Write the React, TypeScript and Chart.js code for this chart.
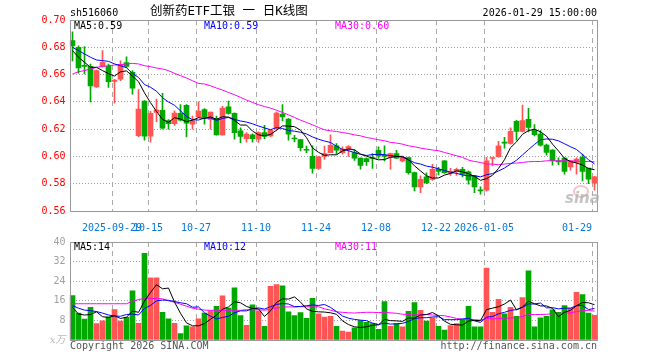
import React, { useEffect, useRef } from 'react';
import { Chart, registerables } from 'chart.js';

Chart.register(...registerables);

// ---------------- data ----------------
const DATES = [
  '2025-09-18','2025-09-19','2025-09-22','2025-09-23','2025-09-24','2025-09-25','2025-09-26','2025-09-29','2025-09-30',
  '2025-10-09','2025-10-10','2025-10-13','2025-10-14','2025-10-15','2025-10-16','2025-10-17','2025-10-20','2025-10-21',
  '2025-10-22','2025-10-23','2025-10-24','2025-10-27','2025-10-28','2025-10-29','2025-10-30','2025-10-31',
  '2025-11-03','2025-11-04','2025-11-05','2025-11-06','2025-11-07','2025-11-10','2025-11-11','2025-11-12','2025-11-13',
  '2025-11-14','2025-11-17','2025-11-18','2025-11-19','2025-11-20','2025-11-21','2025-11-24','2025-11-25','2025-11-26',
  '2025-11-27','2025-11-28',
  '2025-12-01','2025-12-02','2025-12-03','2025-12-04','2025-12-05','2025-12-08','2025-12-09','2025-12-10','2025-12-11',
  '2025-12-12','2025-12-15','2025-12-16','2025-12-17','2025-12-18','2025-12-19','2025-12-22','2025-12-23','2025-12-24',
  '2025-12-25','2025-12-26','2025-12-29','2025-12-30','2025-12-31',
  '2026-01-05','2026-01-06','2026-01-07','2026-01-08','2026-01-09','2026-01-12','2026-01-13','2026-01-14','2026-01-15',
  '2026-01-16','2026-01-19','2026-01-20','2026-01-21','2026-01-22','2026-01-23','2026-01-26','2026-01-27','2026-01-28',
  '2026-01-29',
];

const OPEN = [
  0.685, 0.680, 0.6665, 0.666, 0.651, 0.666, 0.666, 0.655, 0.6567, 0.6687,
  0.6616, 0.6153, 0.6405, 0.6148, 0.6322, 0.6337, 0.6263, 0.6241, 0.6315, 0.6374,
  0.6237, 0.629, 0.6344, 0.6271, 0.628, 0.6158, 0.6364, 0.6315, 0.6187, 0.6131,
  0.6158, 0.6126, 0.6175, 0.6151, 0.6205, 0.631, 0.6273, 0.6135, 0.6124, 0.6052,
  0.600, 0.5913, 0.600, 0.6028, 0.6077, 0.6028, 0.6053, 0.6028, 0.5987, 0.5985,
  0.5987, 0.6045, 0.6005, 0.5992, 0.6021, 0.5967, 0.5992, 0.5881, 0.5776, 0.585,
  0.5832, 0.5906, 0.5967, 0.5875, 0.5888, 0.5906, 0.5887, 0.5858, 0.5752, 0.5753,
  0.5985, 0.5998, 0.6102, 0.6096, 0.6257, 0.6184, 0.6272, 0.6194, 0.6164, 0.6083,
  0.6047, 0.5965, 0.5988, 0.5924, 0.5956, 0.5993, 0.5914, 0.5804,
];
const HIGH = [
  0.6914, 0.681, 0.6805, 0.6677, 0.6635, 0.6776, 0.6677, 0.6565, 0.670, 0.673,
  0.6629, 0.649, 0.641, 0.633, 0.642, 0.6462, 0.627, 0.6335, 0.638, 0.638,
  0.6296, 0.640, 0.635, 0.6325, 0.6295, 0.6368, 0.6405, 0.632, 0.621, 0.6175,
  0.6165, 0.618, 0.6228, 0.6195, 0.6326, 0.638, 0.6278, 0.6154, 0.6125, 0.6076,
  0.6077, 0.600, 0.6076, 0.6158, 0.6094, 0.607, 0.608, 0.605, 0.599, 0.599,
  0.602, 0.607, 0.6077, 0.6025, 0.6045, 0.5995, 0.5995, 0.5885, 0.5857, 0.588,
  0.5943, 0.592, 0.597, 0.5912, 0.5915, 0.592, 0.5895, 0.586, 0.5777, 0.5993,
  0.5995, 0.611, 0.614, 0.621, 0.6265, 0.6377, 0.6353, 0.6233, 0.619, 0.609,
  0.605, 0.599, 0.599, 0.597, 0.599, 0.6017, 0.5915, 0.5855,
];
const LOW = [
  0.670, 0.661, 0.6605, 0.640, 0.6505, 0.6655, 0.6505, 0.639, 0.6555, 0.665,
  0.6457, 0.6145, 0.612, 0.6105, 0.6255, 0.6202, 0.620, 0.6228, 0.626, 0.6143,
  0.620, 0.6285, 0.6237, 0.620, 0.6155, 0.6155, 0.631, 0.6126, 0.610, 0.6105,
  0.6105, 0.6102, 0.613, 0.6145, 0.619, 0.626, 0.612, 0.6107, 0.604, 0.6027,
  0.5878, 0.5904, 0.5978, 0.6027, 0.6016, 0.6016, 0.600, 0.597, 0.5906, 0.5935,
  0.5913, 0.5985, 0.5967, 0.5906, 0.5985, 0.596, 0.587, 0.5747, 0.5734, 0.580,
  0.5825, 0.5865, 0.5875, 0.586, 0.586, 0.585, 0.5797, 0.5735, 0.5723, 0.5745,
  0.593, 0.5995, 0.606, 0.609, 0.612, 0.618, 0.618, 0.615, 0.6075, 0.601,
  0.5936, 0.594, 0.587, 0.590, 0.587, 0.582, 0.580, 0.5753,
];
const CLOSE = [
  0.681, 0.6648, 0.666, 0.6516, 0.6629, 0.669, 0.6548, 0.656, 0.6675, 0.666,
  0.650, 0.6347, 0.6148, 0.6315, 0.634, 0.6207, 0.6241, 0.6317, 0.6266, 0.6244,
  0.6261, 0.6332, 0.6286, 0.6325, 0.6158, 0.6354, 0.6315, 0.6175, 0.6146, 0.6163,
  0.6131, 0.6175, 0.6146, 0.6192, 0.6317, 0.629, 0.6163, 0.6128, 0.6065, 0.6045,
  0.5913, 0.5997, 0.6021, 0.6082, 0.6045, 0.6053, 0.6072, 0.5987, 0.5935, 0.5962,
  0.5985, 0.6004, 0.600, 0.6021, 0.5987, 0.5992, 0.5881, 0.5776, 0.5832, 0.5808,
  0.5906, 0.589, 0.5881, 0.589, 0.5906, 0.5869, 0.5826, 0.5777, 0.5747, 0.5968,
  0.599, 0.6078, 0.6098, 0.6184, 0.6184, 0.6262, 0.6213, 0.6159, 0.6083, 0.6029,
  0.5968, 0.596, 0.589, 0.5963, 0.598, 0.589, 0.5833, 0.5851,
];

const MA5 = [
  0.6776, 0.6727, 0.669, 0.6653, 0.6653, 0.6629, 0.6607, 0.6589, 0.662, 0.6627,
  0.6589, 0.6548, 0.6466, 0.6394, 0.633, 0.6271, 0.625, 0.6284, 0.6274, 0.6255,
  0.6266, 0.6284, 0.6278, 0.629, 0.6272, 0.6291, 0.6288, 0.6265, 0.623, 0.623,
  0.6186, 0.6158, 0.6152, 0.6161, 0.6192, 0.6224, 0.6222, 0.6218, 0.6193, 0.6138,
  0.6063, 0.603, 0.6008, 0.6012, 0.6012, 0.604, 0.6055, 0.6048, 0.6018, 0.6002,
  0.5988, 0.5975, 0.5977, 0.5994, 0.5999, 0.6001, 0.5976, 0.5931, 0.5894, 0.5858,
  0.5841, 0.5842, 0.5863, 0.5875, 0.5895, 0.5887, 0.5874, 0.5854, 0.5825, 0.5837,
  0.5862, 0.5912, 0.5976, 0.6064, 0.6107, 0.6162, 0.6189, 0.62, 0.618, 0.6149,
  0.609, 0.604, 0.5986, 0.5962, 0.5952, 0.5937, 0.5911, 0.5903,
];
const MA10 = [
  0.680, 0.6776, 0.6751, 0.6727, 0.6707, 0.6702, 0.6697, 0.6678, 0.6665, 0.665,
  0.6609, 0.6579, 0.6527, 0.6507, 0.6478, 0.643, 0.6399, 0.6375, 0.6334, 0.6293,
  0.6269, 0.6267, 0.6281, 0.6282, 0.6264, 0.6278, 0.6286, 0.6272, 0.626, 0.6252,
  0.6239, 0.6223, 0.6209, 0.6196, 0.6211, 0.6205, 0.619, 0.6185, 0.6177, 0.6165,
  0.6143, 0.6126, 0.6113, 0.6102, 0.6075, 0.6051, 0.6042, 0.6028, 0.6015, 0.6007,
  0.6014, 0.6015, 0.6013, 0.6006, 0.6001, 0.5995, 0.5975, 0.5954, 0.5944, 0.5929,
  0.5921, 0.5909, 0.5897, 0.5884, 0.5876, 0.5864, 0.5858, 0.5859, 0.585, 0.5866,
  0.5874, 0.5893, 0.5915, 0.5944, 0.5972, 0.6011, 0.605, 0.6088, 0.6122, 0.6128,
  0.6126, 0.6114, 0.6093, 0.6071, 0.6051, 0.6014, 0.5976, 0.5945,
];
const MA30 = [
  0.6604, 0.6621, 0.6629, 0.6641, 0.6653, 0.666, 0.6665, 0.667, 0.6673, 0.6678,
  0.6682, 0.6678, 0.6665, 0.6658, 0.6648, 0.6641, 0.6629, 0.6609, 0.6592, 0.6575,
  0.6555, 0.6535, 0.6531, 0.6518, 0.6501, 0.6486, 0.6469, 0.6452, 0.6433, 0.6413,
  0.6396, 0.6379, 0.6366, 0.6354, 0.6339, 0.6322, 0.6305, 0.6286, 0.6266, 0.6249,
  0.6232, 0.6212, 0.6195, 0.6188, 0.6183, 0.6175, 0.6168, 0.6158, 0.6151, 0.6139,
  0.6131, 0.6122, 0.6115, 0.6103, 0.6098, 0.609, 0.6078, 0.6071, 0.6061, 0.6054,
  0.6047, 0.6042, 0.6029, 0.6017, 0.6005, 0.5993, 0.5973, 0.5963, 0.5956, 0.5944,
  0.5944, 0.5939, 0.5944, 0.5949, 0.5951, 0.5956, 0.5961, 0.5963, 0.5963, 0.5968,
  0.5968, 0.5968, 0.5968, 0.5968, 0.5966, 0.5963, 0.5963, 0.5961,
];

// volume, 万
const VOLUME = [
  18.1, 11.0, 8.5, 13.3, 6.7, 7.8, 9.5, 12.4, 7.7, 9.3,
  20.1, 6.8, 35.4, 25.4, 25.4, 11.3, 8.6, 6.8, 2.6, 5.8,
  5.4, 8.6, 11.0, 11.9, 13.7, 18.0, 13.0, 21.3, 10.0, 6.0,
  14.4, 11.8, 5.6, 21.9, 22.6, 22.1, 11.5, 10.0, 11.2, 8.8,
  17.0, 10.7, 9.4, 9.7, 5.6, 3.6, 3.2, 5.0, 7.9, 7.2,
  6.7, 4.4, 15.7, 5.6, 6.7, 5.4, 11.7, 15.3, 12.1, 7.7,
  9.0, 5.6, 4.0, 5.9, 6.7, 8.3, 13.7, 5.4, 5.4, 29.4,
  11.3, 16.6, 10.7, 13.3, 9.7, 17.3, 28.2, 5.4, 9.0, 9.7,
  12.3, 11.3, 14.1, 13.0, 19.5, 18.5, 11.0, 10.1,
];
const VMA5 = [
  13.3, 10.6, 10.2, 10.4, 11.5, 9.5, 9.2, 9.9, 8.8, 9.3,
  11.8, 11.3, 15.9, 19.4, 22.6, 20.9, 21.2, 15.5, 10.9, 7.0,
  5.8, 5.8, 6.7, 8.5, 10.1, 12.6, 13.5, 15.6, 15.2, 13.7,
  12.9, 12.7, 9.6, 11.9, 15.3, 16.8, 16.7, 17.6, 15.5, 12.7,
  11.7, 11.5, 11.4, 11.1, 10.5, 7.8, 6.3, 5.4, 5.1, 5.4,
  6.0, 6.2, 8.4, 7.9, 7.8, 7.6, 9.0, 8.9, 10.2, 10.4,
  11.2, 9.9, 7.7, 6.4, 6.2, 6.1, 7.7, 8.0, 7.9, 12.4,
  13.0, 13.6, 14.7, 16.3, 12.3, 13.5, 15.8, 14.8, 13.9, 13.9,
  12.9, 9.5, 11.3, 12.1, 14.0, 15.3, 15.2, 14.4,
];
const VMA10 = [
  14.0, 13.0, 12.2, 12.0, 11.6, 11.0, 10.2, 9.8, 9.7, 10.4,
  10.6, 10.2, 12.9, 14.1, 16.0, 16.3, 16.2, 15.7, 15.2, 14.8,
  13.4, 13.5, 11.1, 9.7, 8.6, 9.2, 9.7, 11.1, 11.9, 11.9,
  12.8, 13.1, 12.6, 13.6, 14.5, 14.9, 14.7, 13.6, 13.7, 14.0,
  14.3, 14.1, 14.5, 13.3, 11.6, 9.8, 8.9, 8.4, 8.1, 7.9,
  6.9, 6.3, 6.9, 6.5, 6.6, 6.8, 7.6, 8.7, 9.1, 9.1,
  9.4, 9.5, 8.3, 8.3, 8.3, 8.6, 8.8, 7.8, 7.2, 9.3,
  9.6, 10.7, 11.3, 12.1, 12.4, 13.3, 14.7, 14.7, 15.1, 13.1,
  13.2, 12.7, 13.0, 13.0, 14.0, 14.1, 12.4, 12.9,
];
const VMA30 = [
  14.8, 14.8, 14.8, 14.8, 14.8, 14.8, 14.8, 14.8, 14.8, 14.8,
  15.8, 16.5, 16.9, 17.0, 16.9, 16.8, 16.0, 15.4, 14.6, 13.8,
  13.0, 12.6, 12.2, 12.1, 12.1, 12.1, 12.1, 12.1, 12.1, 12.4,
  12.3, 12.3, 12.2, 12.5, 13.0, 13.5, 13.5, 13.5, 13.6, 13.6,
  13.5, 13.6, 12.7, 12.2, 11.5, 11.3, 11.1, 11.0, 11.2, 11.3,
  11.3, 11.2, 11.3, 11.1, 10.9, 10.5, 10.4, 10.2, 10.3, 10.4,
  10.2, 10.0, 9.9, 9.4, 8.8, 8.4, 8.5, 8.3, 8.1, 8.8,
  8.6, 8.8, 8.9, 9.0, 9.1, 9.6, 10.4, 10.4, 10.4, 10.5,
  10.7, 10.9, 10.9, 11.1, 11.6, 12.0, 12.0, 11.8,
];

const X_TICK_DATES = ['2025-09-29', '2025-10-15', '2025-10-27', '2025-11-10', '2025-11-24', '2025-12-08', '2025-12-22', '2026-01-05', '2026-01-29'];
const X_TICK_TEXT = ['2025-09-29', '10-15', '10-27', '11-10', '11-24', '12-08', '12-22', '2026-01-05', '01-29'];
const PRICE_MIN = 0.56;
const PRICE_MAX = 0.70;
const PRICE_STEP = 0.02;
const VOL_MIN = 0;
const VOL_MAX = 40;
const VOL_STEP = 8;

// ---------------- style ----------------
const MONO = "'DejaVu Sans Mono', monospace";
const RED = '#ff5555';
const GREEN = '#00a800';
const C_MA5 = '#000000';
const C_MA10 = '#0000ff';
const C_MA30 = '#ff00ff';
const BLUE_LABEL = '#0a78d2';

const tickIdx = X_TICK_DATES.map((d) => DATES.indexOf(d));
const candleColors = CLOSE.map((c, i) => (c >= OPEN[i] ? RED : GREEN));

const vGridPlugin = {
  id: 'vgrid',
  beforeDatasetsDraw(chart: any) {
    const { ctx, chartArea: a, scales } = chart;
    const x = scales.x;
    ctx.save();
    ctx.strokeStyle = '#aaaaaa';
    ctx.lineWidth = 1;
    ctx.setLineDash([5, 4]);
    for (const i of tickIdx) {
      const px = Math.floor(x.getPixelForValue(i) - 2.5) + 0.5;
      ctx.beginPath();
      ctx.moveTo(px, a.top);
      ctx.lineTo(px, a.bottom);
      ctx.stroke();
    }
    ctx.restore();
  },
};

const framePlugin = {
  id: 'frame',
  afterDraw(chart: any) {
    const { ctx, chartArea: a } = chart;
    const x0 = Math.ceil(a.left) + 0.5;
    const x1 = Math.floor(a.right) + 0.5;
    const y0 = Math.floor(a.top) + 0.5;
    const y1 = Math.floor(a.bottom) + 0.5;
    ctx.save();
    ctx.setLineDash([]);
    ctx.strokeStyle = '#999999';
    ctx.lineWidth = 1;
    ctx.strokeRect(x0, y0, x1 - x0, y1 - y0);
    ctx.restore();
  },
};

const lineDs = (label: string, data: number[], color: string) => ({
  type: 'line' as const,
  label,
  data,
  borderColor: color,
  backgroundColor: color,
  borderWidth: 1,
  pointRadius: 0,
  fill: false,
  tension: 0,
  order: 0,
});

export default function App() {
  const priceRef = useRef<HTMLCanvasElement>(null);
  const volRef = useRef<HTMLCanvasElement>(null);

  useEffect(() => {
    const priceChart = new Chart(priceRef.current as HTMLCanvasElement, {
      type: 'bar',
      data: {
        labels: DATES,
        datasets: [
          lineDs('MA5', MA5, C_MA5),
          lineDs('MA10', MA10, C_MA10),
          lineDs('MA30', MA30, C_MA30),
          {
            type: 'bar',
            label: 'body',
            data: OPEN.map((o, i) => [o, CLOSE[i]]),
            backgroundColor: candleColors,
            barThickness: 5,
            grouped: false,
            minBarLength: 1,
            borderWidth: 0,
            order: 1,
          },
          {
            type: 'bar',
            label: 'wick',
            data: LOW.map((l, i) => [l, HIGH[i]]),
            backgroundColor: candleColors,
            barThickness: 1,
            grouped: false,
            borderWidth: 0,
            order: 2,
          },
        ] as any,
      },
      options: {
        responsive: false,
        animation: false,
        devicePixelRatio: 1,
        events: [],
        layout: { padding: { left: 0, right: 62.5, top: 20, bottom: 0 } },
        plugins: { legend: { display: false }, tooltip: { enabled: false } },
        scales: {
          x: {
            type: 'category',
            offset: true,
            grid: { display: false },
            border: { display: false },
            ticks: {
              autoSkip: false,
              maxRotation: 0,
              minRotation: 0,
              labelOffset: -2.5,
              padding: 3,
              color: BLUE_LABEL,
              font: { family: MONO, size: 10 },
              callback: (_v: any, i: number) => {
                const k = tickIdx.indexOf(i);
                if (k < 0) return '';
                return i === DATES.length - 1 ? X_TICK_TEXT[k].padEnd(10, ' ') : X_TICK_TEXT[k];
              },
            },
            afterFit: (s: any) => {
              s.height = 21;
            },
          },
          y: {
            min: PRICE_MIN,
            max: PRICE_MAX,
            ticks: {
              stepSize: PRICE_STEP,
              padding: 4,
              color: '#ff0000',
              font: { family: MONO, size: 10 },
              callback: (v: any) => Number(v).toFixed(2),
            },
            grid: { color: '#a0a0a0', drawTicks: false, lineWidth: 1 },
            border: { display: false, dash: [1, 2] },
            afterFit: (s: any) => {
              s.width = 69.5;
            },
          },
        },
      } as any,
      plugins: [vGridPlugin, framePlugin],
    });

    const volChart = new Chart(volRef.current as HTMLCanvasElement, {
      type: 'bar',
      data: {
        labels: DATES,
        datasets: [
          lineDs('VMA5', VMA5, C_MA5),
          lineDs('VMA10', VMA10, C_MA10),
          lineDs('VMA30', VMA30, C_MA30),
          {
            type: 'bar',
            label: 'volume',
            data: VOLUME,
            backgroundColor: candleColors,
            barThickness: 5,
            grouped: false,
            borderWidth: 0,
            order: 1,
          },
        ] as any,
      },
      options: {
        responsive: false,
        animation: false,
        devicePixelRatio: 1,
        events: [],
        layout: { padding: { left: 0, right: 62.5, top: 8, bottom: 20 } },
        plugins: { legend: { display: false }, tooltip: { enabled: false } },
        scales: {
          x: { type: 'category', offset: true, display: false },
          y: {
            min: VOL_MIN,
            max: VOL_MAX,
            ticks: {
              stepSize: VOL_STEP,
              padding: 4,
              color: (c: any) => (c.tick && c.tick.value === 0 ? '#b8b8b8' : '#a0a0a0'),
              font: (c: any) =>
                c.tick && c.tick.value === 0
                  ? { family: "'DejaVu Serif', 'Noto Sans CJK SC', serif", size: 10, style: 'italic' }
                  : { family: MONO, size: 10 },
              callback: (v: any) => (Number(v) === 0 ? 'x万' : String(v)),
            },
            grid: { color: '#a0a0a0', drawTicks: false, lineWidth: 1 },
            border: { display: false, dash: [1, 2] },
            afterFit: (s: any) => {
              s.width = 69.5;
            },
          },
        },
      } as any,
      plugins: [vGridPlugin, framePlugin],
    });

    return () => {
      priceChart.destroy();
      volChart.destroy();
    };
  }, []);

  const last = (a: number[]) => a[a.length - 1];
  const txt: React.CSSProperties = {
    position: 'absolute',
    fontFamily: MONO,
    fontSize: 10,
    lineHeight: '12px',
    whiteSpace: 'pre',
    color: '#000',
  };

  return (
    <div style={{ position: 'absolute', left: 0, top: 0, width: 660, height: 360, background: '#fff', overflow: 'hidden' }}>
      <canvas ref={priceRef} width={660} height={232} style={{ position: 'absolute', left: 0, top: 0 }} />
      <canvas ref={volRef} width={660} height={128} style={{ position: 'absolute', left: 0, top: 232 }} />

      <div style={{ ...txt, left: 70, top: 7 }}>sh516060</div>
      <div style={{ ...txt, left: 150, top: 3, fontSize: 12.5, lineHeight: '15px', fontFamily: "'DejaVu Sans Mono', 'Noto Sans CJK SC', monospace" }}>
        创新药ETF工银 一 日K线图
      </div>
      <div style={{ ...txt, right: 63, top: 7 }}>2026-01-29 15:00:00</div>

      <div style={{ ...txt, left: 74, top: 20, color: C_MA5 }}>{`MA5:${last(MA5).toFixed(2)}`}</div>
      <div style={{ ...txt, left: 204, top: 20, color: C_MA10 }}>{`MA10:${last(MA10).toFixed(2)}`}</div>
      <div style={{ ...txt, left: 335, top: 20, color: C_MA30 }}>{`MA30:${last(MA30).toFixed(2)}`}</div>

      <div style={{ ...txt, left: 74, top: 241, color: C_MA5 }}>{`MA5:${Math.floor(last(VMA5))}`}</div>
      <div style={{ ...txt, left: 204, top: 241, color: C_MA10 }}>{`MA10:${Math.floor(last(VMA10))}`}</div>
      <div style={{ ...txt, left: 335, top: 241, color: C_MA30 }}>{`MA30:${Math.floor(last(VMA30))}`}</div>

      <div style={{ ...txt, left: 70, top: 340, color: '#555' }}>Copyright 2026 SINA.COM</div>
      <div style={{ ...txt, right: 63, top: 340, color: '#555' }}>http://finance.sina.com.cn</div>

      <div
        style={{
          position: 'absolute',
          left: 573,
          top: 185,
          width: 12,
          height: 9,
          borderRadius: '50%',
          border: '2px solid rgba(235,150,150,0.55)',
        }}
      />
      <div
        style={{
          position: 'absolute',
          left: 565,
          top: 190,
          fontFamily: "'DejaVu Sans', sans-serif",
          fontWeight: 'bold',
          fontStyle: 'italic',
          fontSize: 15,
          lineHeight: '16px',
          color: 'rgba(175,175,175,0.75)',
        }}
      >
        sina
      </div>
    </div>
  );
}
